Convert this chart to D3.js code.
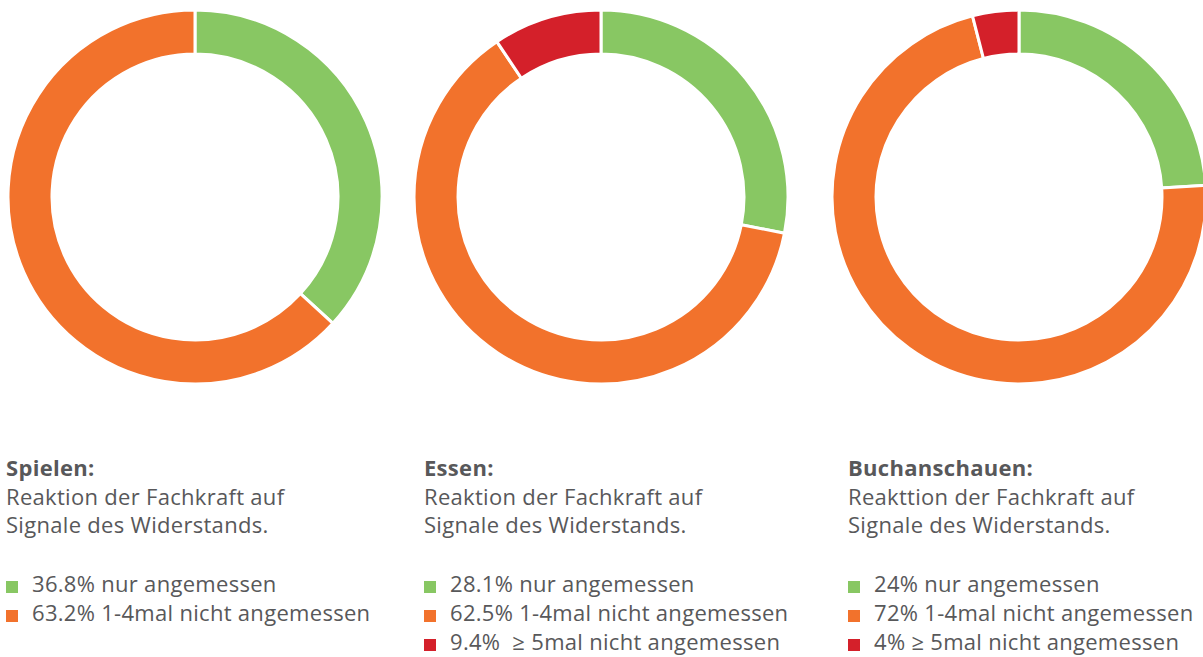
<!DOCTYPE html>
<html>
<head>
    <meta charset="utf-8">
    <title>Reaktion der Fachkraft</title>
    <script src="https://d3js.org/d3.v7.min.js"></script>
    <style>
        body { margin: 0; background: #fff; }
        svg text { font-family: "Open Sans", "Noto Sans", sans-serif; fill: #58585a; white-space: pre; }
        .title { font-weight: bold; font-size: 22px; letter-spacing: 0.3px; }
        .sub, .leg { font-size: 22px; letter-spacing: 0.3px; }
    </style>
</head>
<body>
<div id="chart"></div>
<script>
    // Daten
    const chartTitles = ["Spielen:", "Essen:", "Buchanschauen:"];
    const subLine1 = ["Reaktion der Fachkraft auf", "Reaktion der Fachkraft auf", "Reakttion der Fachkraft auf"];
    const subLine2 = ["Signale des Widerstands.", "Signale des Widerstands.", "Signale des Widerstands."];
    const categories = ["nur angemessen", "1-4mal nicht angemessen", "≥ 5mal nicht angemessen"];
    const spielenValues = [36.8, 63.2];
    const essenValues = [28.1, 62.5, 9.4];
    const buchValues = [24, 72, 4];
    const legendLabels = [
        ["36.8% nur angemessen", "63.2% 1-4mal nicht angemessen"],
        ["28.1% nur angemessen", "62.5% 1-4mal nicht angemessen", "9.4%  ≥ 5mal nicht angemessen"],
        ["24% nur angemessen", "72% 1-4mal nicht angemessen", "4% ≥ 5mal nicht angemessen"]
    ];
    const colors = ["#88c763", "#f2722c", "#d4202a"];

    const allValues = [spielenValues, essenValues, buchValues];

    const width = 1203, height = 657;
    const svg = d3.select("#chart").append("svg")
        .attr("width", width)
        .attr("height", height);

    const centersX = [195, 601, 1019];
    const textX = [6, 424, 848];
    const cy = 197;
    const outerR = 187, innerR = 143;

    const pie = d3.pie().sort(null).value(d => d);
    const arc = d3.arc().innerRadius(innerR).outerRadius(outerR);
    const color = d3.scaleOrdinal().domain(d3.range(3)).range(colors);

    allValues.forEach((vals, i) => {
        const g = svg.append("g")
            .attr("transform", `translate(${centersX[i]},${cy})`);
        g.selectAll("path")
            .data(pie(vals))
            .enter()
            .append("path")
            .attr("d", arc)
            .attr("fill", (d, j) => color(j))
            .attr("stroke", "#fff")
            .attr("stroke-width", 3);

        // Beschriftung
        const t = svg.append("g").attr("transform", `translate(${textX[i]},0)`);
        t.append("text").attr("class", "title").attr("x", 0).attr("y", 476).text(chartTitles[i]);
        t.append("text").attr("class", "sub").attr("x", 0).attr("y", 505).text(subLine1[i]);
        t.append("text").attr("class", "sub").attr("x", 0).attr("y", 533).text(subLine2[i]);

        const leg = t.selectAll(".legrow")
            .data(legendLabels[i])
            .enter()
            .append("g")
            .attr("transform", (d, j) => `translate(0,${592 + j * 29})`);
        leg.append("rect")
            .attr("x", 0)
            .attr("y", -11)
            .attr("width", 12)
            .attr("height", 12)
            .attr("fill", (d, j) => color(j));
        leg.append("text")
            .attr("class", "leg")
            .attr("x", 26)
            .attr("y", 0)
            .text(d => d);
    });
</script>
</body>
</html>
